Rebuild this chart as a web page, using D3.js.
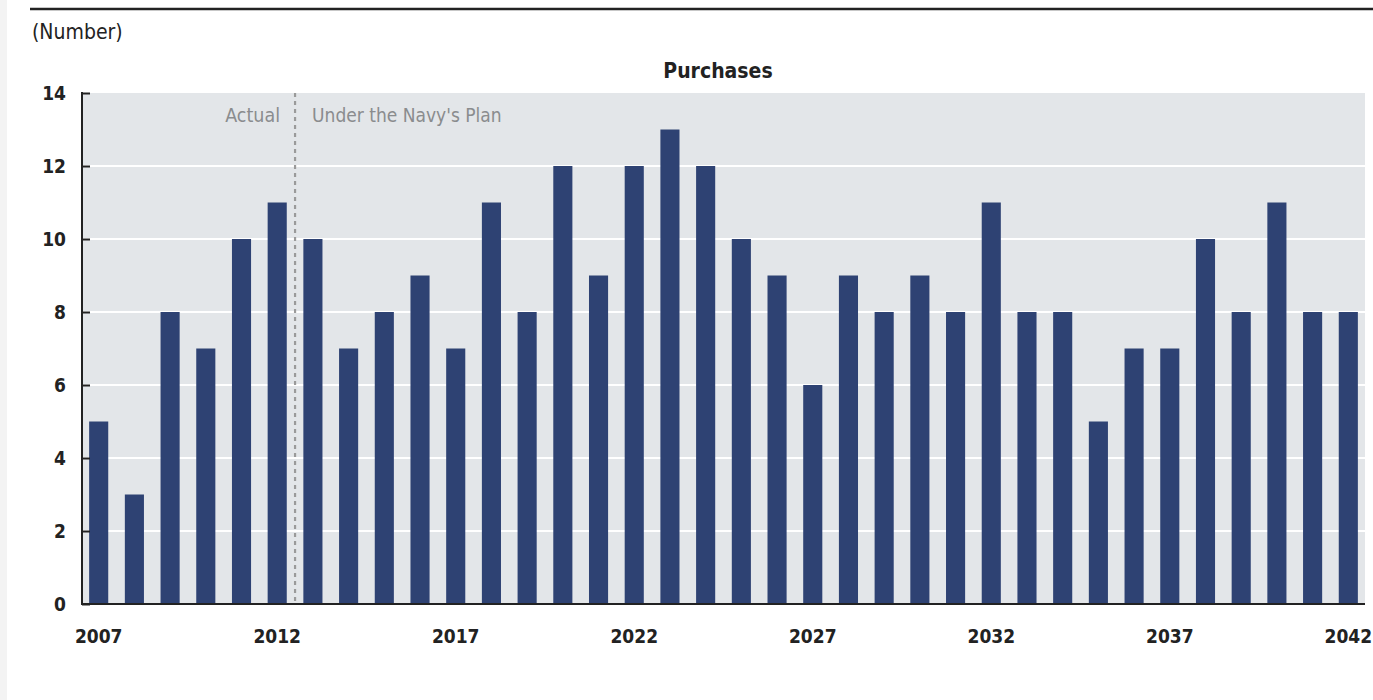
<!DOCTYPE html>
<html>
<head>
<meta charset="utf-8">
<script src="https://cdn.jsdelivr.net/npm/d3@7"></script>
<style>
  body { margin: 0; background: #fff; }
  svg { display: block; }
</style>
</head>
<body>
<svg id="chart" width="1373" height="700"></svg>
<script>
const years = [2007,2008,2009,2010,2011,2012,2013,2014,2015,2016,2017,2018,2019,2020,2021,2022,2023,2024,2025,2026,2027,2028,2029,2030,2031,2032,2033,2034,2035,2036,2037,2038,2039,2040,2041,2042];
const purchases = [5,3,8,7,10,11,10,7,8,9,7,11,8,12,9,12,13,12,10,9,6,9,8,9,8,11,8,8,5,7,7,10,8,11,8,8];
const yTicks = [0,2,4,6,8,10,12,14];
const xTickLabels = [2007,2012,2017,2022,2027,2032,2037,2042];
const dividerAfterYear = 2012;

(function () {
const font = "'Liberation Sans Narrow', 'DejaVu Sans Condensed', 'Liberation Sans', sans-serif";
const svg = d3.select("#chart");

const pL = 82, pR = 1365, pT = 93, pB = 604;

svg.append("rect").attr("x", 0).attr("y", 0).attr("width", 7).attr("height", 700).attr("fill", "#f3f3f3");
svg.append("line").attr("x1", 30).attr("x2", 1373).attr("y1", 9).attr("y2", 9)
  .attr("stroke", "#222").attr("stroke-width", 2.5);

svg.append("text").attr("x", 32).attr("y", 39).text("(Number)")
  .attr("font-family", font).attr("font-size", 21).attr("fill", "#222");

svg.append("text").attr("x", 718).attr("y", 78).attr("text-anchor", "middle").text("Purchases")
  .attr("font-family", font).attr("font-size", 21).attr("font-weight", "bold").attr("fill", "#222");

const x = d3.scaleBand().domain(years).range([pL, pR]).paddingInner(0.465).paddingOuter(0.2);
const y = d3.scaleLinear().domain([0, 14]).range([pB, pT]);

svg.append("rect").attr("x", pL).attr("y", pT).attr("width", pR - pL).attr("height", pB - pT)
  .attr("fill", "#e3e6e9");

svg.append("g").selectAll("line").data(yTicks.filter(d => d > 0 && d < 14)).join("line")
  .attr("x1", pL).attr("x2", pR).attr("y1", d => y(d)).attr("y2", d => y(d))
  .attr("stroke", "#fff").attr("stroke-width", 2);

svg.append("g").selectAll("rect").data(years).join("rect")
  .attr("x", d => x(d)).attr("width", x.bandwidth())
  .attr("y", (d, i) => y(purchases[i])).attr("height", (d, i) => y(0) - y(purchases[i]))
  .attr("fill", "#2e4273");

const divX = (x(dividerAfterYear) + x.bandwidth() + x(dividerAfterYear + 1)) / 2;
svg.append("line").attr("x1", divX).attr("x2", divX).attr("y1", pT).attr("y2", pB)
  .attr("stroke", "#9a9a9a").attr("stroke-width", 2.2).attr("stroke-dasharray", "4,4");

svg.append("text").attr("x", divX - 15).attr("y", 122).attr("text-anchor", "end").text("Actual")
  .attr("font-family", font).attr("font-size", 19.5).attr("fill", "#8a8c8e");
svg.append("text").attr("x", divX + 17).attr("y", 122).text("Under the Navy's Plan")
  .attr("font-family", font).attr("font-size", 19).attr("fill", "#8a8c8e");

const yAxis = svg.append("g").attr("transform", `translate(${pL},0)`)
  .call(d3.axisLeft(y).tickValues(yTicks).tickSize(-8).tickPadding(16).tickFormat(d3.format("d")));
yAxis.select(".domain").remove();
yAxis.selectAll(".tick line").attr("stroke", "#222").attr("stroke-width", 2);
yAxis.selectAll(".tick text").attr("font-family", font).attr("font-size", 19).attr("font-weight", "bold").attr("fill", "#222");
svg.append("line").attr("x1", pL).attr("x2", pL).attr("y1", pT - 1).attr("y2", pB + 1)
  .attr("stroke", "#222").attr("stroke-width", 2);

const xAxis = svg.append("g").attr("transform", `translate(0,${pB})`)
  .call(d3.axisBottom(x).tickValues(xTickLabels).tickSize(0).tickPadding(26).tickFormat(d3.format("d")));
xAxis.select(".domain").remove();
xAxis.selectAll(".tick text").attr("font-family", font).attr("font-size", 19).attr("font-weight", "bold").attr("fill", "#222");
svg.append("line").attr("x1", pL - 1).attr("x2", pR).attr("y1", pB).attr("y2", pB)
  .attr("stroke", "#222").attr("stroke-width", 2);
})();
</script>
</body>
</html>
